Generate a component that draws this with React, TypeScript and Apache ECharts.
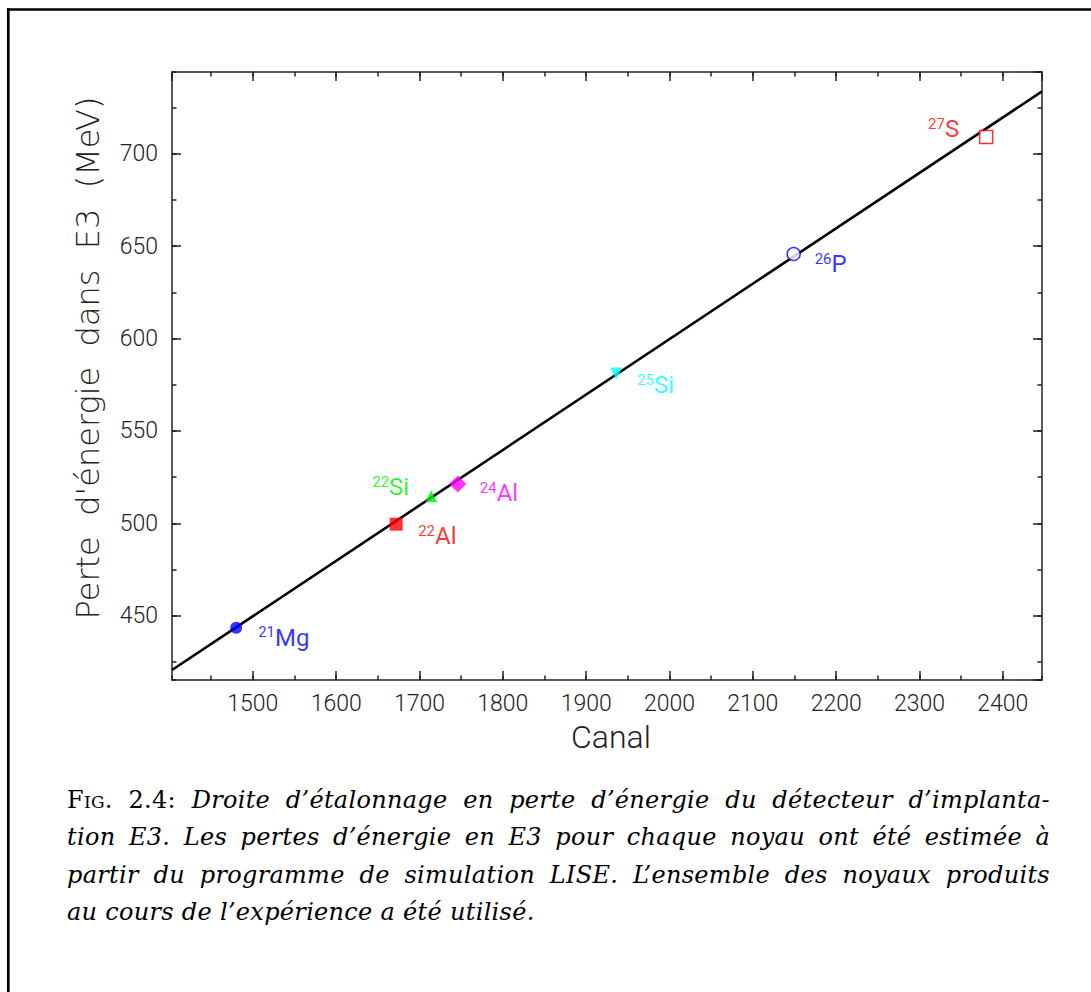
import React, { useEffect, useRef } from 'react';
import * as echarts from 'echarts';

// ---- axis extents & tick steps (data units) ----
const xMin = 1403;
const xMax = 2447;
const yMin = 415.2;
const yMax = 744.2;
const xMajor = 100;
const xMinor = 50;
const yMajor = 50;
const yMinor = 25;

// ---- nuclei (points) ----
const massNumbers = ['21', '22', '22', '24', '25', '26', '27'];
const elements = ['Mg', 'Al', 'Si', 'Al', 'Si', 'P', 'S'];
const canal = [1480, 1672, 1714, 1746, 1936, 2149, 2380];
const energy = [443.5, 499.5, 514.6, 521.2, 581.1, 645.7, 709.0];

// ---- calibration line ----
const fitCanal = [1403, 2447];
const fitEnergy = [420.6, 733.7];

// ---- texts ----
const xTitle = 'Canal';
const yTitle = "Perte  d'énergie  dans  E3  (MeV)";
const captionLabel = 'Fig. 2.4: ';
const captionLines = [
  'Droite d’étalonnage en perte d’énergie du détecteur d’implanta-',
  'tion E3. Les pertes d’énergie en E3 pour chaque noyau ont été estimée à',
  'partir du programme de simulation LISE. L’ensemble des noyaux produits',
  'au cours de l’expérience a été utilisé.',
];

// ---- marker styles (per point) ----
const TRI_DOWN = 'path://M0,0 L10,0 L5,10 Z';
const markerStyles = [
  { symbol: 'circle', size: 12, color: '#0000ff', filled: true, align: 'left', dx: 22, dy: 10 },
  { symbol: 'rect', size: 13, color: '#ff0000', filled: true, align: 'left', dx: 22, dy: 12 },
  { symbol: 'triangle', size: 12, color: '#00ee00', filled: true, align: 'right', dx: -22, dy: -9 },
  { symbol: 'diamond', size: 17, color: '#ff00ff', filled: true, align: 'left', dx: 22, dy: 9 },
  { symbol: TRI_DOWN, size: 12, color: '#00ffff', filled: true, align: 'left', dx: 21, dy: 12 },
  { symbol: 'circle', size: 13, color: '#0000ff', filled: false, align: 'left', dx: 21, dy: 10 },
  { symbol: 'rect', size: 13, color: '#ff0000', filled: false, align: 'right', dx: -27, dy: -8 },
];

const SANS = 'Roboto, "Liberation Sans", sans-serif';
const TEXT_COLOR = '#222';
const AXIS_COLOR = '#222';

const GRID = { left: 172, top: 72, width: 870, height: 608 };

const plainNumber = (v: number) => String(Math.round(v));

function App() {
  const ref = useRef<HTMLDivElement>(null);

  useEffect(() => {
    if (!ref.current) return;
    const chart = echarts.init(ref.current, undefined, { renderer: 'svg' });

    const lineStyle = { color: AXIS_COLOR, width: 1.5 };

    const majorX = (gridIndex: number, position: string, showLabel: boolean) => ({
      type: 'value',
      gridIndex,
      position,
      min: xMin,
      max: xMax,
      minInterval: xMajor,
      maxInterval: xMajor,
      axisLine: { show: true, onZero: false, lineStyle },
      axisTick: { show: true, inside: true, length: 9, lineStyle },
      axisLabel: {
        show: showLabel,
        showMinLabel: false,
        showMaxLabel: false,
        formatter: plainNumber,
        margin: 12,
        fontSize: 23,
        fontFamily: SANS,
        fontWeight: 300,
        color: TEXT_COLOR,
      },
      splitLine: { show: false },
    });
    const minorXAxis = (gridIndex: number, position: string) => ({
      type: 'value',
      gridIndex,
      position,
      min: xMin,
      max: xMax,
      minInterval: xMinor,
      maxInterval: xMinor,
      axisLine: { show: false, onZero: false },
      axisTick: { show: true, inside: true, length: 4.5, lineStyle },
      axisLabel: { show: false },
      splitLine: { show: false },
    });
    const majorY = (gridIndex: number, position: string, showLabel: boolean) => ({
      type: 'value',
      gridIndex,
      position,
      min: yMin,
      max: yMax,
      minInterval: yMajor,
      maxInterval: yMajor,
      axisLine: { show: true, onZero: false, lineStyle },
      axisTick: { show: true, inside: true, length: 9, lineStyle },
      axisLabel: {
        show: showLabel,
        showMinLabel: false,
        showMaxLabel: false,
        formatter: plainNumber,
        margin: 14,
        fontSize: 23,
        fontFamily: SANS,
        fontWeight: 300,
        color: TEXT_COLOR,
      },
      splitLine: { show: false },
    });
    const minorYAxis = (gridIndex: number, position: string) => ({
      type: 'value',
      gridIndex,
      position,
      min: yMin,
      max: yMax,
      minInterval: yMinor,
      maxInterval: yMinor,
      axisLine: { show: false, onZero: false },
      axisTick: { show: true, inside: true, length: 4.5, lineStyle },
      axisLabel: { show: false },
      splitLine: { show: false },
    });

    const points = canal.map((c, i) => {
      const st = markerStyles[i];
      return {
        value: [c, energy[i]],
        symbol: st.symbol,
        symbolSize: st.size,
        itemStyle: st.filled
          ? { color: st.color, borderWidth: 0 }
          : { color: '#ffffff', borderColor: st.color, borderWidth: 1.5 },
        label: {
          show: true,
          position: 'inside',
          align: st.align,
          verticalAlign: 'middle',
          offset: [st.dx, st.dy],
          color: st.color,
          formatter: `{s|${massNumbers[i]}}{e|${elements[i]}}`,
          rich: {
            s: {
              fontSize: 15,
              lineHeight: 15,
              verticalAlign: 'top',
              color: st.color,
              fontFamily: SANS,
              fontWeight: 400,
            },
            e: {
              fontSize: 24,
              lineHeight: 26,
              color: st.color,
              fontFamily: SANS,
              fontWeight: 400,
            },
          },
        },
      };
    });

    const option: any = {
      animation: false,
      backgroundColor: '#ffffff',
      grid: [
        { ...GRID, outerBoundsMode: 'none', containLabel: false },
        { ...GRID, outerBoundsMode: 'none', containLabel: false },
      ],
      xAxis: [
        majorX(0, 'bottom', true),
        majorX(0, 'top', false),
        minorXAxis(1, 'bottom'),
        minorXAxis(1, 'top'),
      ],
      yAxis: [
        majorY(0, 'left', true),
        majorY(0, 'right', false),
        minorYAxis(1, 'left'),
        minorYAxis(1, 'right'),
      ],
      series: [
        {
          type: 'line',
          xAxisIndex: 0,
          yAxisIndex: 0,
          data: fitCanal.map((x, i) => [x, fitEnergy[i]]),
          symbol: 'none',
          lineStyle: { color: '#000', width: 2.6 },
          silent: true,
          z: 2,
        },
        {
          type: 'scatter',
          xAxisIndex: 0,
          yAxisIndex: 0,
          data: points,
          z: 3,
        },
      ],
      graphic: [
        {
          type: 'line',
          shape: { x1: 7, y1: 9.5, x2: 1091, y2: 9.5 },
          style: { stroke: '#000', lineWidth: 2.5 },
        },
        {
          type: 'line',
          shape: { x1: 8.3, y1: 8.3, x2: 8.3, y2: 992 },
          style: { stroke: '#000', lineWidth: 2.7 },
        },
        {
          type: 'text',
          x: 88,
          y: 358,
          rotation: Math.PI / 2,
          style: {
            text: yTitle,
            fontSize: 32,
            fontFamily: '"DejaVu Sans", sans-serif',
            fontWeight: 200,
            fill: TEXT_COLOR,
            align: 'center',
            verticalAlign: 'middle',
          },
        },
        {
          type: 'text',
          x: 611,
          y: 737,
          style: {
            text: xTitle,
            fontSize: 32,
            fontFamily: SANS,
            fontWeight: 300,
            fill: TEXT_COLOR,
            align: 'center',
            verticalAlign: 'middle',
          },
        },
      ],
    };

    chart.setOption(option);
    return () => chart.dispose();
  }, []);

  const captionStyle: React.CSSProperties = {
    position: 'absolute',
    left: 67,
    width: 983,
    fontFamily: '"DejaVu Serif", "Liberation Serif", serif',
    fontSize: 24,
    letterSpacing: '0.3px',
    lineHeight: '37.3px',
    color: '#000',
    fontStyle: 'italic',
  };

  return (
    <div
      style={{
        position: 'absolute',
        left: 0,
        top: 0,
        width: 1091,
        height: 992,
        background: '#fff',
        overflow: 'hidden',
      }}
    >
      <div ref={ref} style={{ position: 'absolute', left: 0, top: 0, width: 1091, height: 992 }} />
      {captionLines.map((line, i) => (
        <div
          key={i}
          style={{
            ...captionStyle,
            top: 782 + i * 37.3,
            textAlign: 'justify',
            textAlignLast: i < captionLines.length - 1 ? 'justify' : 'left',
          }}
        >
          {i === 0 ? (
            <span style={{ fontStyle: 'normal', fontVariant: 'small-caps' }}>{captionLabel}</span>
          ) : null}
          {line}
        </div>
      ))}
    </div>
  );
}

export default App;
